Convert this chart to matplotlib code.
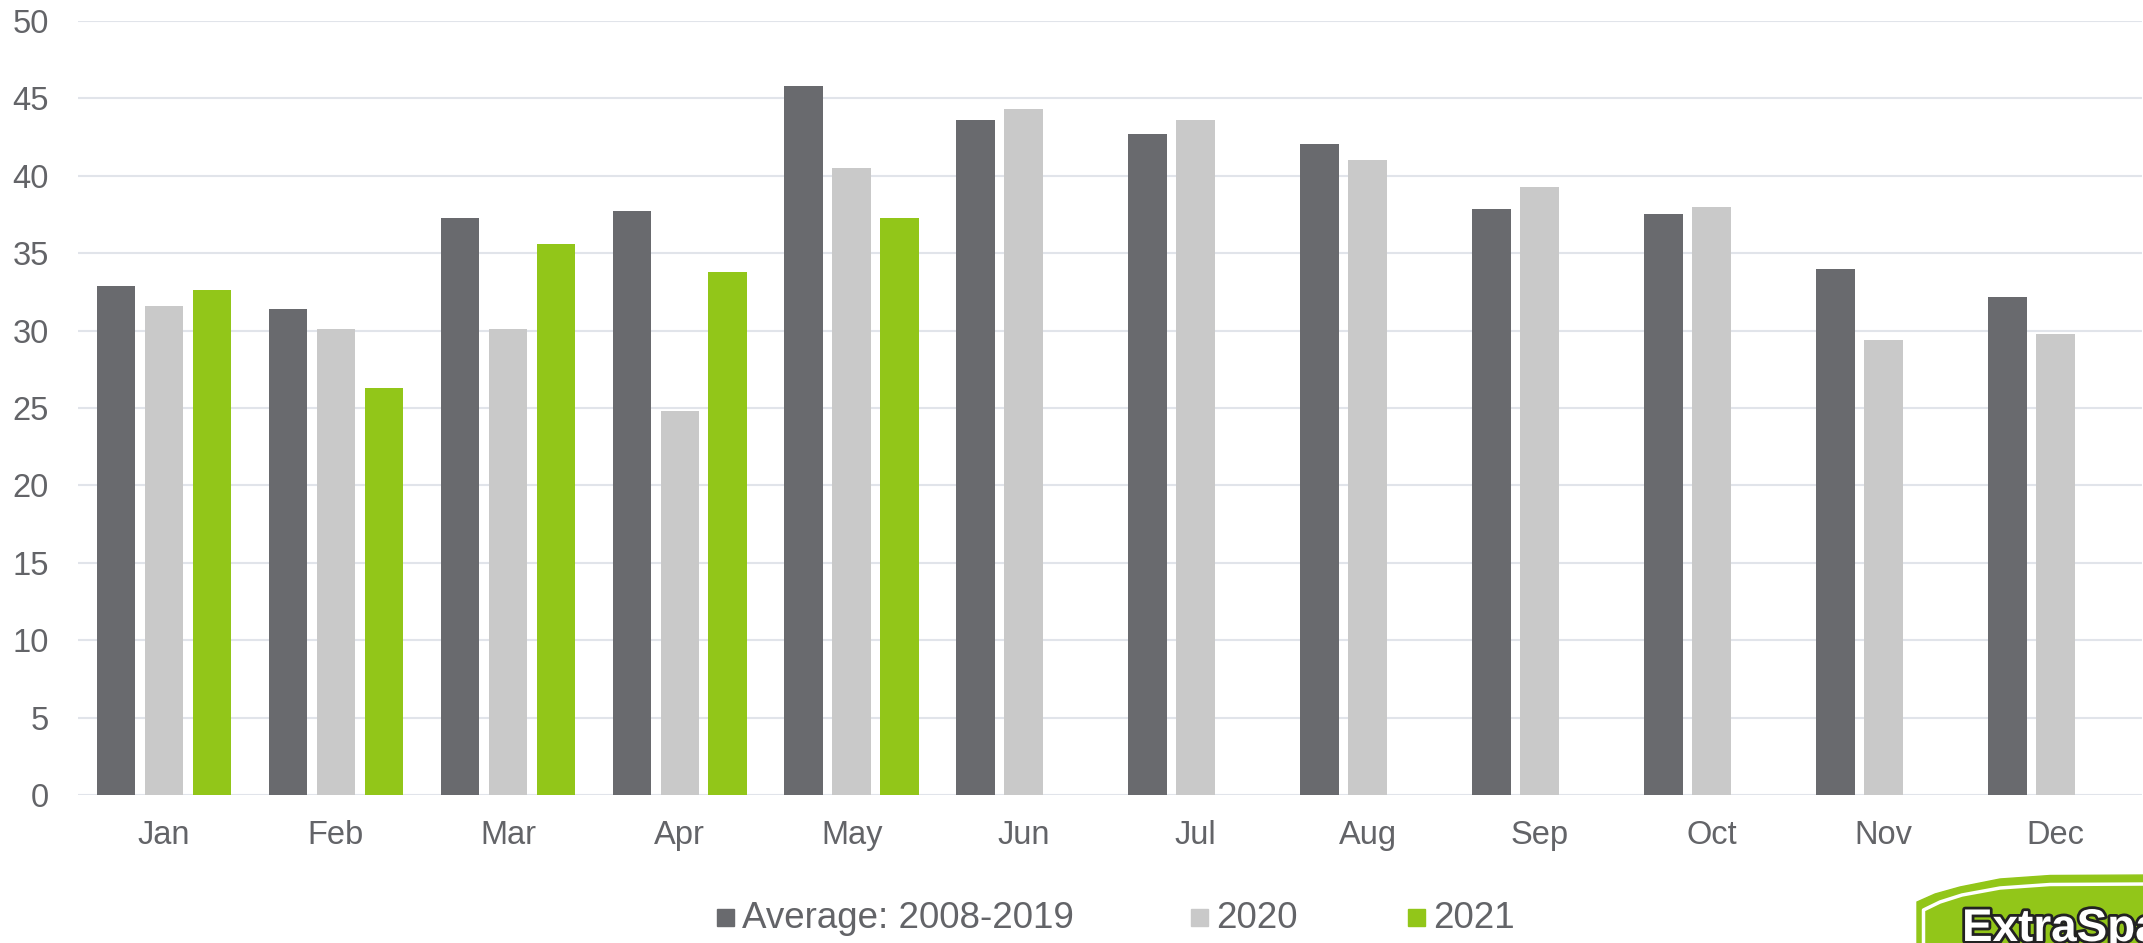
import matplotlib
matplotlib.use("Agg")
import matplotlib.pyplot as plt
import matplotlib.patheffects as pe
from matplotlib.patches import Rectangle, Polygon
import numpy as np

months = ['Jan', 'Feb', 'Mar', 'Apr', 'May', 'Jun', 'Jul', 'Aug', 'Sep', 'Oct', 'Nov', 'Dec']
avg_2008_2019 = [32.9, 31.4, 37.3, 37.7, 45.8, 43.6, 42.7, 42.05, 37.85, 37.5, 34.0, 32.2]
y2020 = [31.6, 30.1, 30.1, 24.8, 40.5, 44.3, 43.6, 41.0, 39.3, 38.0, 29.4, 29.8]
y2021 = [32.6, 26.3, 35.6, 33.8, 37.3]
legend_labels = ['Average: 2008-2019', '2020', '2021']

c_avg = '#696A6E'
c_2020 = '#C9C9C9'
c_2021 = '#92C619'
c_text = '#636468'
c_grid = '#E1E4EA'

plt.rcParams['font.family'] = ['Liberation Sans', 'DejaVu Sans']

W, H = 2143, 943
fig = plt.figure(figsize=(W / 100, H / 100), dpi=100)
ax = fig.add_axes([78 / W, (H - 795) / H, (2141.5 - 78) / W, (795 - 21) / H])

x = np.arange(len(months))
bw = 0.225
step = 0.279
ax.bar(x - step, avg_2008_2019, bw, color=c_avg, zorder=3)
ax.bar(x, y2020, bw, color=c_2020, zorder=3)
ax.bar(x[:len(y2021)] + step, y2021, bw, color=c_2021, zorder=3)

ax.set_xlim(-0.5, 11.5)
ax.set_ylim(0, 50)
ax.set_yticks(np.arange(0, 51, 5))
ax.set_xticks(x)
ax.set_xticklabels(months)
ax.grid(axis='y', color=c_grid, linewidth=1.5, zorder=0)
ax.set_axisbelow(True)
for s in ax.spines.values():
    s.set_visible(False)
ax.tick_params(axis='y', length=0, pad=21, labelsize=23.5, labelcolor=c_text)
ax.tick_params(axis='x', length=0, pad=18, labelsize=23.5, labelcolor=c_text)

# legend, laid out by hand along the bottom
leg_x = [717, 1191, 1408]
box = 17
for lx, lab, c in zip(leg_x, legend_labels, (c_avg, c_2020, c_2021)):
    fig.patches.append(Rectangle((lx / W, 1 - 926 / H), box / W, box / H,
                                 transform=fig.transFigure, color=c))
    fig.text((lx + box + 8) / W, 1 - 918 / H, lab, fontsize=26.5, color=c_text,
             ha='left', va='center')

# logo in the bottom-right corner (cut off by the image edge)
lx0, ly0 = 1900, 866
logo = fig.add_axes([lx0 / W, 0, (W - lx0) / W, (H - ly0) / H])
logo.set_xlim(lx0, W)
logo.set_ylim(H, ly0)
logo.axis('off')
outer = [(1917, 950), (1917, 902), (1935, 894), (1960, 887), (2000, 879),
         (2050, 875.5), (2150, 875), (2150, 950)]
logo.add_patch(Polygon(outer, closed=True, color=c_2021))
inner = [(1923.5, 950), (1923.5, 910), (1940, 902), (1962, 895), (2000, 888),
         (2050, 884.5), (2150, 884)]
ix, iy = zip(*inner)
logo.plot(ix, iy, color='white', linewidth=2.5, solid_capstyle='butt')
t = logo.text(1962, 941, 'ExtraSpace', fontsize=33, fontweight='bold',
              color='white', ha='left', va='baseline', clip_on=True)
t.set_path_effects([pe.Stroke(linewidth=4, foreground='#222222'), pe.Normal()])

fig.savefig('out.png', dpi=100)
